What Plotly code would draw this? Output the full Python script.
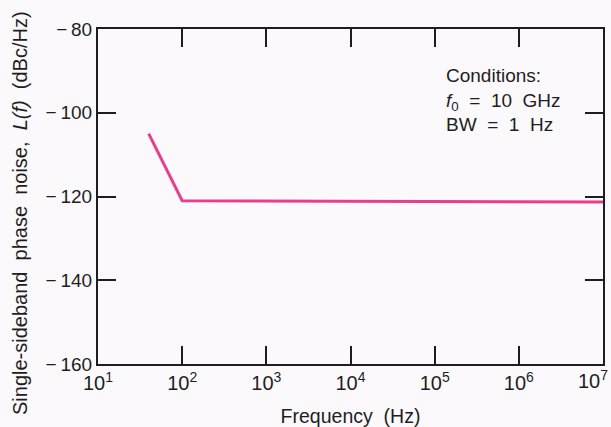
import plotly.graph_objects as go

freq_hz = [40, 100, 1e7]
noise_dbc = [-105.0, -121.0, -121.3]

x_tickvals = [1e1, 1e2, 1e3, 1e4, 1e5, 1e6, 1e7]
x_ticktext = ["10<sup>1</sup>", "10<sup>2</sup>", "10<sup>3</sup>", "10<sup>4</sup>",
              "10<sup>5</sup>", "10<sup>6</sup>", "10<sup>7</sup>"]
y_tickvals = [-160, -140, -120, -100, -80]
y_ticktext = ["\u2212\u2009160", "\u2212\u2009140", "\u2212\u2009120", "\u2212\u2009100", "\u2212\u200980"]

bg = "#fbf9fc"
ink = "#1e1e1e"
font = "Liberation Sans, Arial, sans-serif"

fig = go.Figure()
fig.add_trace(go.Scatter(x=freq_hz, y=noise_dbc, mode="lines",
                         line=dict(color="#ea3d8c", width=3), showlegend=False,
                         hoverinfo="skip"))

# the last tick label sits flush with the right edge, so draw it as an annotation
axis_ticktext = x_ticktext[:-1] + [""]

fig.update_layout(
    width=611, height=427,
    margin=dict(l=98, r=8, t=29, b=63, autoexpand=False),
    paper_bgcolor=bg, plot_bgcolor=bg,
    font=dict(family=font, size=19, color=ink),
    xaxis=dict(type="log", range=[0.9999, 7.0001], tickvals=x_tickvals, ticktext=axis_ticktext,
               ticks="inside", ticklen=18, tickwidth=1.5, tickcolor=ink,
               tickfont=dict(size=20), automargin=False,
               showline=True, linecolor=ink, linewidth=2, mirror="ticks",
               showgrid=False, zeroline=False,
               title=dict(text="Frequency  (Hz)", font=dict(size=19.5), standoff=16)),
    yaxis=dict(range=[-160, -80], tickvals=y_tickvals, ticktext=y_ticktext,
               ticks="inside", ticklen=18, tickwidth=1.5, tickcolor=ink,
               tickfont=dict(size=19), automargin=False,
               showline=True, linecolor=ink, linewidth=2, mirror="ticks",
               showgrid=False, zeroline=False),
)

fig.add_annotation(xref="x", yref="paper", x=7, y=0, xanchor="right", yanchor="top",
                   xshift=7, yshift=-1, showarrow=False, text=x_ticktext[-1],
                   font=dict(size=20, color=ink))

fig.add_annotation(xref="paper", yref="paper", x=-0.153, y=0.45, xanchor="center", yanchor="middle",
                   textangle=-90, showarrow=False,
                   text="Single-sideband  phase  noise,  <i>L(f)</i>  (dBc/Hz)",
                   font=dict(size=20, color=ink))

fig.add_annotation(xref="paper", yref="paper", x=0.686, y=0.90, xanchor="left", yanchor="top",
                   align="left", showarrow=False,
                   text="Conditions:<br><i>f</i><sub>0</sub>  =  10  GHz<br>BW  =  1  Hz",
                   font=dict(size=19, color=ink))

fig.write_html("out.html", config={"displayModeBar": False},
               post_script="document.body.style.margin='0';")
